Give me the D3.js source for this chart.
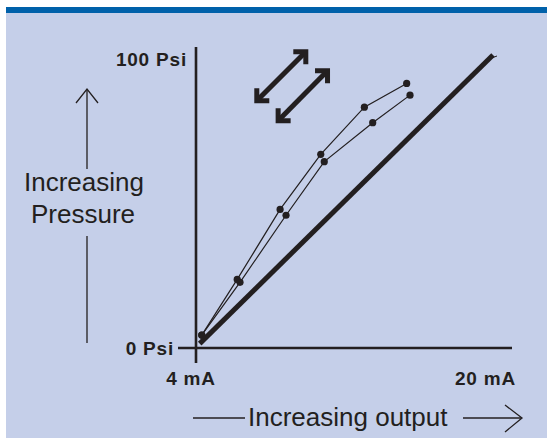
<!DOCTYPE html>
<html><head><meta charset="utf-8">
<script src="https://cdn.jsdelivr.net/npm/d3@7"></script>
<style>html,body{margin:0;padding:0;background:#fff;}svg{display:block;}</style>
</head><body>
<script>
// ---- data (mA, Psi) ----
const xDomain = [4, 20];          // mA
const yDomain = [0, 100];         // Psi
const xTickLabels = ["4 mA", "20 mA"];
const yTickLabels = ["0 Psi", "100 Psi"];
const upperSeries = [[4.31,4.4],[6.22,23.4],[8.53,47.3],[10.72,66.1],[13.07,82.2],[15.35,90.3]];
const lowerSeries = [[4.31,4.4],[6.37,22.4],[8.85,45.3],[10.91,63.6],[13.52,76.9],[15.53,86.3]];
const idealLine = [[4.2,1.5],[20,100]];
// hysteresis arrows (in data units)
const arrowA = [[7.14,83.5],[10.05,102]];
const arrowB = [[8.29,76.7],[11.22,95.5]];

const W = 547, H = 438;
const ink = "#231f20";
const svg = d3.select("body").append("svg").attr("width", W).attr("height", H);

// frame
svg.append("rect").attr("x",6).attr("y",7).attr("width",W-6).attr("height",H-7).attr("fill","#c5cfe9");
svg.append("rect").attr("x",6).attr("y",7).attr("width",W-6).attr("height",6).attr("fill","#0061aa");

const x = d3.scaleLinear().domain(xDomain).range([196, 493]);
const y = d3.scaleLinear().domain(yDomain).range([348, 55]);

// axes
svg.append("line").attr("x1",x(4)).attr("x2",x(4)).attr("y1",47).attr("y2",363)
  .attr("stroke",ink).attr("stroke-width",2.6);
svg.append("line").attr("x1",178).attr("x2",512).attr("y1",y(0)).attr("y2",y(0))
  .attr("stroke",ink).attr("stroke-width",2.6);

const bold = {"font-family":"Liberation Sans, Arial, Helvetica, sans-serif","font-weight":"bold","font-size":"19px","letter-spacing":"0.8px"};
function applyAttrs(sel, o){ for (const k in o) sel.attr(k,o[k]); return sel; }

applyAttrs(svg.append("text").text(yTickLabels[1]), bold)
  .attr("x", x(4)-9).attr("y", y(100)+11).attr("text-anchor","end").attr("fill",ink);
applyAttrs(svg.append("text").text(yTickLabels[0]), bold)
  .attr("x", x(4)-22).attr("y", y(0)+7).attr("text-anchor","end").attr("fill",ink);
applyAttrs(svg.append("text").text(xTickLabels[0]), bold)
  .attr("x", x(4)-5).attr("y", 385).attr("text-anchor","middle").attr("fill",ink);
applyAttrs(svg.append("text").text(xTickLabels[1]), bold)
  .attr("x", x(20)+23).attr("y", 385).attr("text-anchor","end").attr("fill",ink);

// axis titles
const reg = {"font-family":"Liberation Sans, Arial, Helvetica, sans-serif","font-size":"26px","fill":ink};
applyAttrs(svg.append("text").text("Increasing"), reg).attr("x",84).attr("y",191).attr("text-anchor","middle");
applyAttrs(svg.append("text").text("Pressure"), reg).attr("x",83).attr("y",223).attr("text-anchor","middle");
applyAttrs(svg.append("text").text("Increasing output"), reg).attr("x",248).attr("y",426).attr("text-anchor","start");

const thin = {stroke: ink, "stroke-width": 1.3, fill: "none"};
// vertical arrow
applyAttrs(svg.append("line").attr("x1",87).attr("x2",87).attr("y1",90).attr("y2",169), thin);
applyAttrs(svg.append("polyline").attr("points","76,103 87,89 98,103"), thin);
applyAttrs(svg.append("line").attr("x1",87).attr("x2",87).attr("y1",236).attr("y2",343), thin);
// horizontal arrow
applyAttrs(svg.append("line").attr("x1",193).attr("x2",245).attr("y1",418).attr("y2",418), thin);
applyAttrs(svg.append("line").attr("x1",463).attr("x2",521).attr("y1",418).attr("y2",418), thin);
applyAttrs(svg.append("polyline").attr("points","505,405 522,418 505,432"), thin);

// series
const line = d3.line().x(d=>x(d[0])).y(d=>y(d[1]));
[upperSeries, lowerSeries].forEach(s => {
  svg.append("path").datum(s).attr("d", line).attr("fill","none").attr("stroke",ink).attr("stroke-width",1.2);
  svg.selectAll(null).data(s).enter().append("circle")
    .attr("cx",d=>x(d[0])).attr("cy",d=>y(d[1])).attr("r",3.6).attr("fill",ink);
});

// ideal line
svg.append("path").datum(idealLine).attr("d", line).attr("fill","none")
  .attr("stroke",ink).attr("stroke-width",5).attr("stroke-linecap","butt");
{
  const e = idealLine[1];
  svg.append("line").attr("x1",x(e[0])-4).attr("y1",y(e[1])+4).attr("x2",x(e[0])+4).attr("y2",y(e[1])+1)
    .attr("stroke",ink).attr("stroke-width",1);
}

// double arrows
function dblArrow(a){
  const p0 = [x(a[0][0]), y(a[0][1])], p1 = [x(a[1][0]), y(a[1][1])];
  const w = 5, h = w/2, L = 15;
  const g = svg.append("g").attr("stroke",ink).attr("stroke-width",w).attr("fill","none")
    .attr("stroke-linejoin","miter").attr("stroke-linecap","butt");
  g.append("line").attr("x1",p0[0]+h).attr("y1",p0[1]-h).attr("x2",p1[0]-h).attr("y2",p1[1]+h);
  g.append("polyline").attr("points",[[p1[0]-L,p1[1]+h],[p1[0]-h,p1[1]+h],[p1[0]-h,p1[1]+L]].join(" "));
  g.append("polyline").attr("points",[[p0[0]+h,p0[1]-L],[p0[0]+h,p0[1]-h],[p0[0]+L,p0[1]-h]].join(" "));
}
dblArrow(arrowA);
dblArrow(arrowB);
</script>
</body></html>
